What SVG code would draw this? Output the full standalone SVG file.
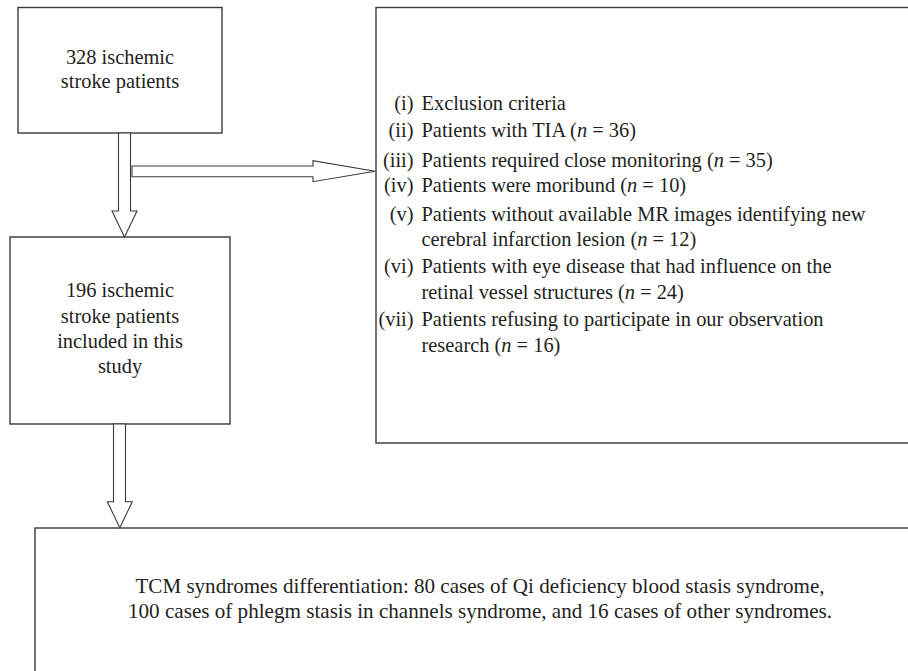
<svg xmlns="http://www.w3.org/2000/svg" width="908" height="671" viewBox="0 0 908 671" font-family="'Liberation Serif', 'DejaVu Serif', serif">
<style>
.box{fill:#fff;stroke:#3a3a3a;stroke-width:1.4}
.arr{fill:#fff;stroke:#3a3a3a;stroke-width:1.1;stroke-linejoin:miter}
text{font-family:'Liberation Serif','DejaVu Serif',serif;fill:#231f20;font-size:20.4px}
.c{text-anchor:middle}
.lab{text-anchor:end}
.it{font-style:italic}
</style>
<rect width="908" height="671" fill="#fff"/>
<g id="node-start">
<rect class="box" x="18" y="7.5" width="204" height="125.5"/>
<text class="c" x="120" y="63.5">328 ischemic</text>
<text class="c" x="120" y="87.5">stroke patients</text>
</g>
<g id="node-exclusion">
<rect class="box" x="376" y="7.5" width="600" height="435.5"/>
<text class="lab" x="413.5" y="110">(i)</text><text x="421.5" y="110">Exclusion criteria</text>
<text class="lab" x="413.5" y="137">(ii)</text><text x="421.5" y="137">Patients with TIA (<tspan class="it">n</tspan> = 36)</text>
<text class="lab" x="413.5" y="167">(iii)</text><text x="421.5" y="167">Patients required close monitoring (<tspan class="it">n</tspan> = 35)</text>
<text class="lab" x="413.5" y="192">(iv)</text><text x="421.5" y="192">Patients were moribund (<tspan class="it">n</tspan> = 10)</text>
<text class="lab" x="413.5" y="220.5">(v)</text><text x="421.5" y="220.5">Patients without available MR images identifying new</text>
<text x="421.5" y="246">cerebral infarction lesion (<tspan class="it">n</tspan> = 12)</text>
<text class="lab" x="413.5" y="273">(vi)</text><text x="421.5" y="273">Patients with eye disease that had influence on the</text>
<text x="421.5" y="299">retinal vessel structures (<tspan class="it">n</tspan> = 24)</text>
<text class="lab" x="413.5" y="326">(vii)</text><text x="421.5" y="326">Patients refusing to participate in our observation</text>
<text x="421.5" y="352">research (<tspan class="it">n</tspan> = 16)</text>
</g>
<g id="node-included">
<rect class="box" x="10" y="237" width="220" height="187"/>
<text class="c" x="120" y="297">196 ischemic</text>
<text class="c" x="120" y="322.5">stroke patients</text>
<text class="c" x="120" y="347.5">included in this</text>
<text class="c" x="120" y="373">study</text>
</g>
<g id="node-tcm">
<rect class="box" x="35" y="528" width="900" height="200"/>
<text class="c" x="480" y="593" textLength="689" lengthAdjust="spacingAndGlyphs">TCM syndromes differentiation: 80 cases of Qi deficiency blood stasis syndrome,</text>
<text class="c" x="480" y="618" textLength="704" lengthAdjust="spacingAndGlyphs">100 cases of phlegm stasis in channels syndrome, and 16 cases of other syndromes.</text>
</g>
<g id="connectors">
<polygon class="arr" points="118.5,133 130.5,133 130.5,211 137,211 124.5,237 112,211 118.5,211"/>
<polygon class="arr" points="132,166 313,166 313,160.7 375,171.3 313,181.7 313,176.7 132,176.7"/>
<polygon class="arr" points="113.5,424 125.5,424 125.5,501.7 132.3,501.7 119.8,527.7 107.3,501.7 113.5,501.7"/>
</g>
</svg>
